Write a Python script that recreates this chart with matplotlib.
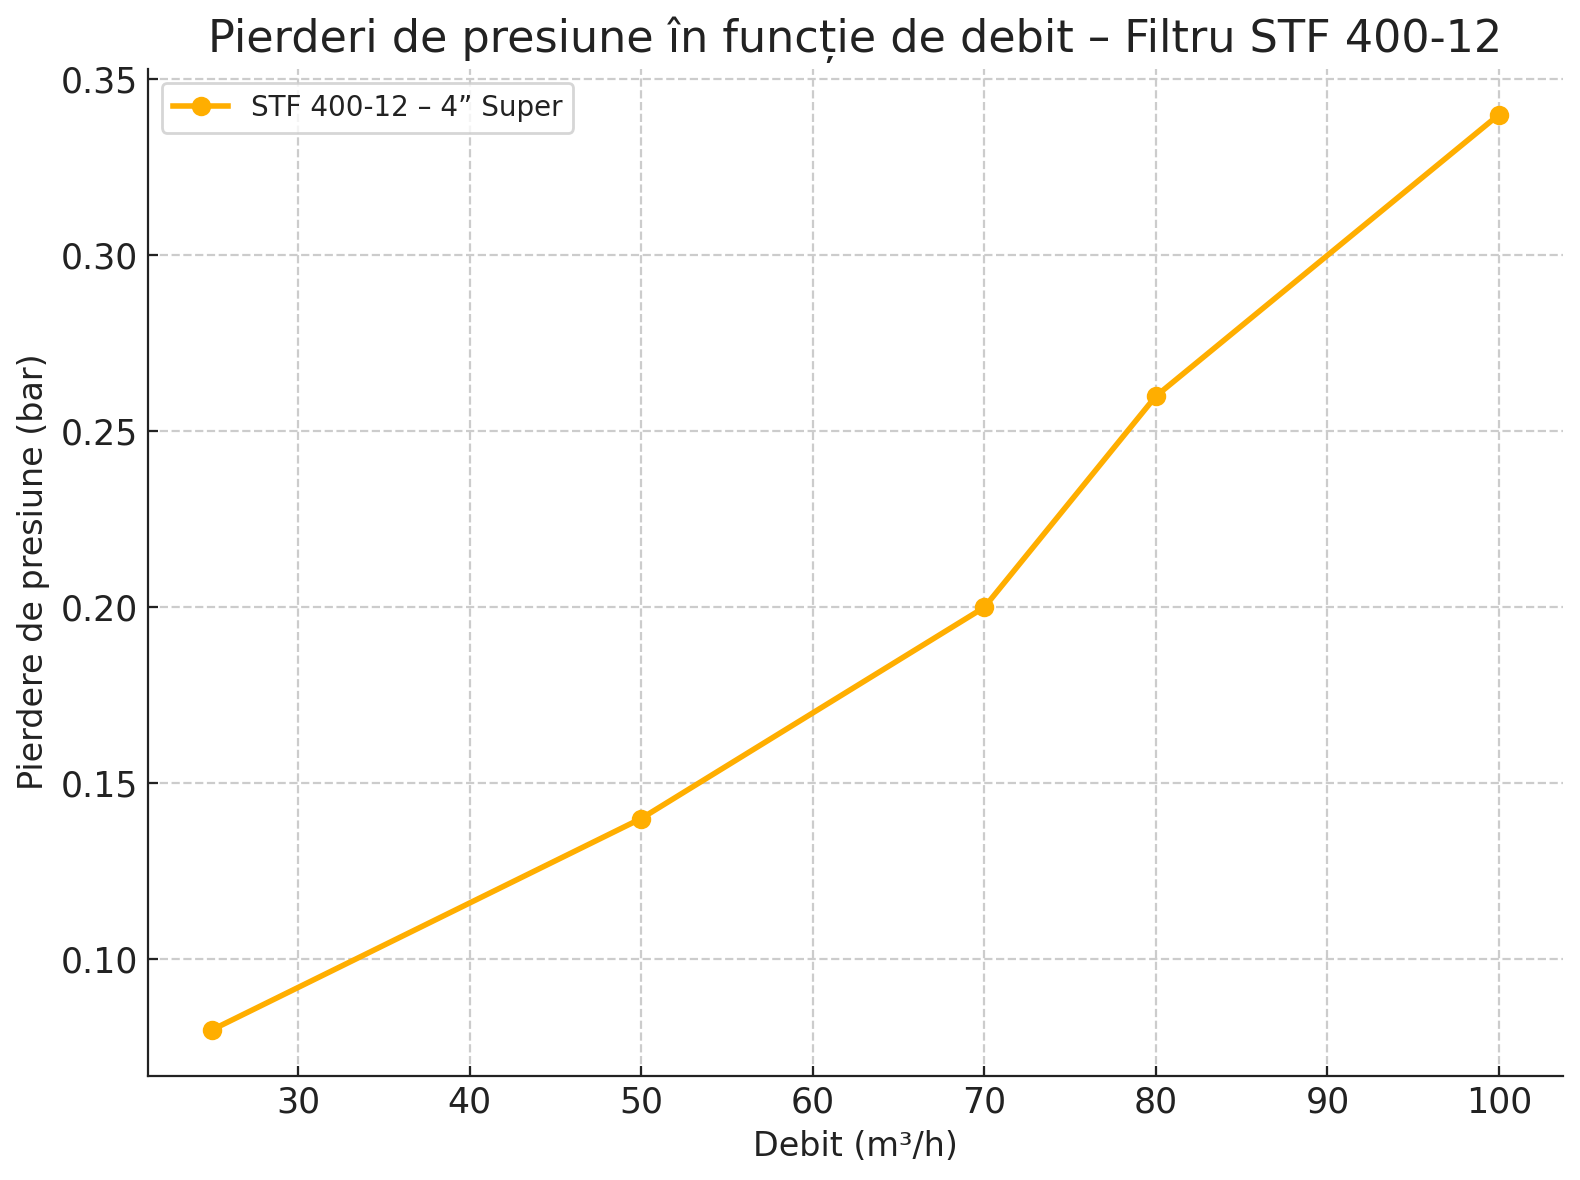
import matplotlib
matplotlib.use("Agg")
import matplotlib.pyplot as plt

# date
debit = [25, 50, 70, 80, 100]
pierdere = [0.08, 0.14, 0.20, 0.26, 0.34]
eticheta = "STF 400-12 – 4\u201d Super"

plt.rcParams['font.family'] = ['DejaVu Sans']
plt.rcParams['text.color'] = '#222222'
plt.rcParams['axes.labelcolor'] = '#222222'
plt.rcParams['xtick.color'] = '#222222'
plt.rcParams['ytick.color'] = '#222222'

fig, ax = plt.subplots(figsize=(7.9, 5.9), dpi=200)
ax.plot(debit, pierdere, marker='o', color='#FFAE00', linewidth=2, markersize=6,
        label=eticheta)

ax.set_title("Pierderi de presiune în funcție de debit – Filtru STF 400-12", fontsize=16)
ax.set_xlabel("Debit (m³/h)", fontsize=12)
ax.set_ylabel("Pierdere de presiune (bar)", fontsize=12)
ax.tick_params(direction='in', labelsize=12.5)
ax.spines['top'].set_visible(False)
ax.spines['right'].set_visible(False)
for s in ('left', 'bottom'):
    ax.spines[s].set_color('#222222')
ax.grid(True, linestyle='--', color='#cccccc', linewidth=0.8)
ax.legend(loc='upper left', fontsize=10)

fig.tight_layout(pad=0.6)
fig.savefig("out.png", dpi=200)
